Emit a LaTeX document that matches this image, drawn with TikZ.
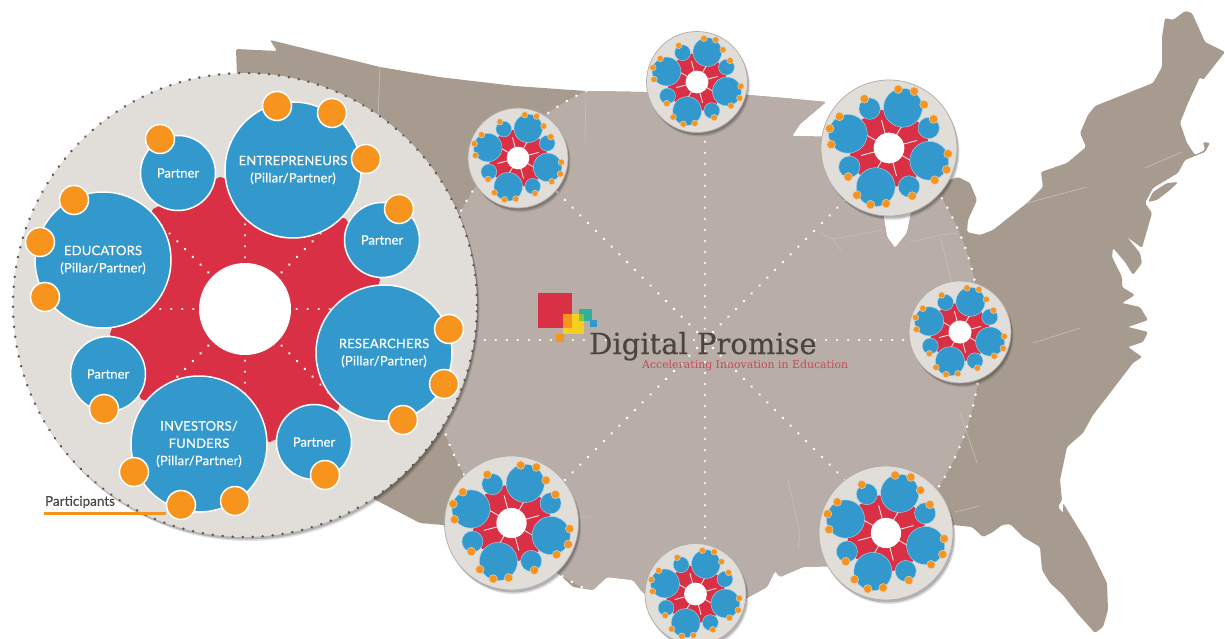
\documentclass[tikz,border=0pt]{standalone}
\usepackage{fontspec}
\setmainfont{Lato}
\newfontfamily\slabfont{DejaVu Serif}
\usetikzlibrary{shadows}

\definecolor{maptan}{HTML}{A69B8E}
\definecolor{maplight}{HTML}{B8ADA7}
\definecolor{mapline}{HTML}{C8C0B9}
\definecolor{beige}{HTML}{E1DDD8}
\definecolor{rimgray}{HTML}{5E5850}
\definecolor{bluefill}{HTML}{3399CC}
\definecolor{orangefill}{HTML}{F7941E}
\definecolor{redfill}{HTML}{DA3045}
\definecolor{logotext}{HTML}{4A4540}
\definecolor{logored}{HTML}{C64A5C}
\definecolor{logoyellow}{HTML}{F5D020}
\definecolor{logoteal}{HTML}{2FB09A}
\definecolor{logolime}{HTML}{8DBF45}

\def\mappath{(370,497) -- (300,300) -- (237,77) -- (236,49) -- (277,51) -- (270,40) -- (380,67) -- (439,77) -- (515,86) -- (586,91) -- (645,92) -- (700,95) -- (748,95) -- (784,98) -- (826,102) -- (800,124) -- (792,136) -- (835,137) -- (875,170) -- (883,213) -- (887,237) -- (895,248) -- (907,233) -- (911,213) -- (920,190) -- (958,177) -- (970,183) -- (977,200) -- (968,220) -- (967,232) -- (980,235) -- (993,230) -- (1027,203) -- (1043,187) -- (1041,172) -- (1067,163) -- (1086,147) -- (1080,133) -- (1088,115) -- (1095,106) -- (1153,83) -- (1162,67) -- (1162,37) -- (1165,18) -- (1173,20) -- (1185,11) -- (1192,13) -- (1205,42) -- (1225,52) -- (1203,80) -- (1200,77) -- (1188,103) -- (1180,123) -- (1187,143) -- (1195,155) -- (1205,150) -- (1203,142) -- (1210,143) -- (1205,152) -- (1185,160) -- (1178,173) -- (1153,188) -- (1145,203) -- (1152,213) -- (1142,248) -- (1127,237) -- (1140,253) -- (1142,263) -- (1133,275) -- (1125,262) -- (1113,248) -- (1112,257) -- (1122,277) -- (1122,287) -- (1135,295) -- (1122,303) -- (1140,307) -- (1148,320) -- (1128,327) -- (1148,332) -- (1143,342) -- (1128,347) -- (1142,357) -- (1133,363) -- (1110,393) -- (1093,415) -- (1083,433) -- (1067,447) -- (1060,480) -- (1062,500) -- (1058,507) -- (1063,513) -- (1063,503) -- (1087,542) -- (1107,583) -- (1108,610) -- (1103,627) -- (1095,633) -- (1077,613) -- (1063,595) -- (1050,583) -- (1042,570) -- (1040,547) -- (1023,537) -- (1010,524) -- (1002,525) -- (993,532) -- (983,537) -- (972,527) -- (953,525) -- (835,566) -- (803,567) -- (780,577) -- (775,571) -- (767,587) -- (747,598) -- (700,610) -- (643,593) -- (633,580) -- (607,577) -- (593,590) -- (573,587) -- (560,575) -- (540,560) -- (443,525) -- (420,523) -- cycle
 (1178,182) -- (1167,183) -- (1153,192) -- (1148,202) -- (1157,200) -- (1170,190) -- cycle}

\newcommand{\minicluster}[4]{
  \node[satdisc,minimum size=#4*2] (#1) at (#2,#3) {};
  \begin{scope}[shift={(#2,#3)},scale=#4*0.00426]
    \fill[redfill] (-25,-132) -- (101,-90) -- (135,-29) -- (93,101) -- (25,133) -- (-104,90) -- (-135,25) -- (-92,-100) -- cycle;
    \foreach \a in {30,75,...,345}
      \draw[white!85!redfill,line width=0.9pt] (0,0) -- (\a:100);
    \fill[white] (0,0) circle [radius=53];
    \foreach \x/\y in {48/-139,-142/-49,139/44,-46/135}
      \filldraw[fill=bluefill,draw=white!60!bluefill,line width=0.4pt] (\x,\y) circle [radius=67];
    \foreach \x/\y in {-67/-136,137/-69,-137/65,69/133}
      \filldraw[fill=bluefill,draw=white!60!bluefill,line width=0.4pt] (\x,\y) circle [radius=37];
    \foreach \x/\y in {32/-203,87/-196,121/-150,-85/-170,154/-100,-171/-109,-205/-67,-200/-12,204/20,199/75,158/111,-141/100,80/166,-111/163,-64/196,-10/192}
      \filldraw[fill=orangefill,draw=beige,line width=0.4pt] (\x,\y) circle [radius=15];
  \end{scope}
}

\begin{document}
\begin{tikzpicture}[x=1pt,y=-1pt,
  softshadow/.style = {drop shadow={shadow xshift=2.5pt,shadow yshift=-4pt,fill=black,opacity=.12}, drop shadow={shadow xshift=1.5pt,shadow yshift=-2.5pt,fill=black,opacity=.2}},
  bigdisc/.style = {circle, inner sep=0pt, minimum size=464, fill=beige, draw=rimgray, line width=2.8pt, line cap=round, dash pattern=on 0.01pt off 10pt, softshadow},
  satdisc/.style = {circle, inner sep=0pt, fill=beige, draw=rimgray!50, line width=0.7pt, softshadow},
  hubdisc/.style = {circle, inner sep=0pt, minimum size=92, fill=white},
  pillar/.style = {circle, inner sep=0pt, minimum size=136, fill=bluefill, draw=white, line width=1.5pt, text=white, align=center, font=\fontsize{13}{17.3}\selectfont\addfontfeatures{LetterSpace=1.5,FakeBold=0.4}},
  partner/.style = {circle, inner sep=0pt, minimum size=75, fill=bluefill, draw=white, line width=1.5pt, text=white, font=\fontsize{13}{17}\selectfont\addfontfeatures{FakeBold=0.4}},
  member/.style = {circle, inner sep=0pt, minimum size=29, fill=orangefill, draw=white, line width=1.5pt},
  spoke/.style = {white, line width=2.8pt, line cap=round, dash pattern=on 0.01pt off 11pt}]
  \useasboundingbox (0,0) rectangle (1225,639);

  % map with the lighter region in the middle
  \fill[maptan,rounded corners=1.5pt] \mappath;
  \coordinate (center) at (705,340);
  \begin{scope}
    \clip[rounded corners=1.5pt] \mappath;
    \fill[maplight] (center) circle [radius=276];
  \end{scope}
  \draw[mapline,line width=0.6pt] (380,67) -- (378,116) (586,91) -- (585,145) (1027,203) -- (1087,187) (1145,168) -- (1182,152)
    (820,233) -- (833,239) -- (883,230) (833,239) -- (842,252) (910,242) -- (940,235) -- (952,283) (940,235) -- (958,233)
    (1033,343) -- (1080,328) (960,413) -- (977,463) (955,512) -- (979,506) (580,517) -- (593,517) (788,480) -- (800,533) -- (798,550);
  \draw[spoke] (center) circle [radius=276];
  \foreach \a in {0,45,...,315} {
    \path (center) ++(\a:276) coordinate (edge\a);
    \draw[spoke] (center) -- (edge\a);
  }

  % logo
  \fill[redfill] (538,293) rectangle (572,328);
  \fill[logoyellow] (563,314) rectangle (584,334);
  \fill[orangefill] (563,314) rectangle (572,328);
  \fill[logoteal] (579,309) rectangle (592,321);
  \fill[logolime] (579,314) rectangle (584,321);
  \fill[bluefill] (590,320) rectangle (597,327);
  \fill[orangefill] (556,334) rectangle (564,342);
  \node[anchor=base west,inner sep=0pt,text=logotext,font=\slabfont\fontsize{29}{32}\selectfont\addfontfeatures{FakeBold=0.5}] (logoname) at (589,354) {Digital Promise};
  \node[anchor=base west,inner sep=0pt,text=logored,font=\slabfont\fontsize{10.9}{12}\selectfont] (logotag) at (642,368) {Accelerating Innovation in Education};

  % small clusters
  \minicluster{sata}{518}{158}{50}
  \minicluster{satb}{697}{82}{50.5}
  \minicluster{satc}{889}{148}{68}
  \minicluster{satd}{960}{332}{51}
  \minicluster{sate}{886}{533}{67}
  \minicluster{satf}{695.5}{594}{50.5}
  \minicluster{satg}{511.5}{523}{67}

  % big cluster
  \node[bigdisc] (disc) at (245,305) {};
  \begin{scope}[shift={(245,309)}]
    \fill[redfill] (-25,-132) -- (101,-90) -- (135,-29) -- (93,101) -- (25,133) -- (-104,90) -- (-135,25) -- (-92,-100) -- cycle;
    \node[hubdisc] (hub) at (0,0) {};
    \foreach \a in {0,45,...,315} {
      \path (0,0) ++(\a:125) coordinate (tip\a);
      \draw[spoke,dash phase=5.5pt] (hub) -- (tip\a);
    }
    \node[pillar] (entrepreneurs) at (48,-139) {ENTREPRENEURS\\(Pillar/Partner)};
    \node[pillar] (educators) at (-142,-49) {EDUCATORS\\(Pillar/Partner)};
    \node[pillar] (researchers) at (139,44) {RESEARCHERS\\(Pillar/Partner)};
    \node[pillar] (investors) at (-46,135) {INVESTORS/\\FUNDERS\\(Pillar/Partner)};
    \node[partner] (partnera) at (-67,-136) {Partner};
    \node[partner] (partnerb) at (137,-69) {Partner};
    \node[partner] (partnerc) at (-137,65) {Partner};
    \node[partner] (partnerd) at (69,133) {Partner};
    \node[member] (m1) at (32,-203) {};
    \node[member] (m2) at (87,-196) {};
    \node[member] (m3) at (121,-150) {};
    \node[member] (m4) at (-85,-170) {};
    \node[member] (m5) at (154,-100) {};
    \node[member] (m6) at (-171,-109) {};
    \node[member] (m7) at (-205,-67) {};
    \node[member] (m8) at (-200,-12) {};
    \node[member] (m9) at (204,20) {};
    \node[member] (m10) at (199,75) {};
    \node[member] (m11) at (158,111) {};
    \node[member] (m12) at (-141,100) {};
    \node[member] (m13) at (80,166) {};
    \node[member] (m14) at (-111,163) {};
    \node[member] (m15) at (-64,196) {};
    \node[member] (m16) at (-10,192) {};
  \end{scope}

  % participants label
  \node[text=logotext,inner sep=0pt,font=\fontsize{13.5}{15}\selectfont\addfontfeatures{FakeBold=0.3}] (participants) at (80,502) {Participants};
  \coordinate (lineend) at (44,513);
  \draw[orangefill,line width=3pt] (lineend) -- (lineend -| m15.west);
\end{tikzpicture}
\end{document}
